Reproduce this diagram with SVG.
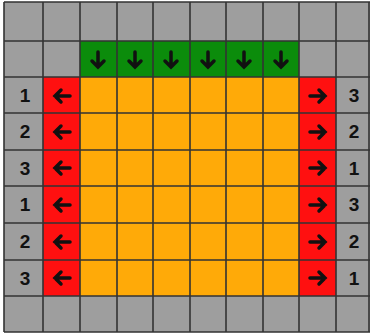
<svg xmlns="http://www.w3.org/2000/svg" width="370" height="336" viewBox="0 0 370 336">
<style>
.gray{fill:#9e9e9e}
.green{fill:#0b8c0b}
.red{fill:#ff1010}
.orange{fill:#ffaa08}
.grid{stroke:#333;stroke-width:1.6;fill:none}
.num{font-family:"Liberation Sans",Arial,sans-serif;font-weight:bold;font-size:19px;fill:#111;text-anchor:middle}
.arr{stroke:#111;stroke-width:3.5;fill:none;stroke-linecap:round;stroke-linejoin:miter}
</style>
<defs>
<path id="aL" class="arr" d="M-7,0 H8 M-1,-6 L-7,0 L-1,6"/>
<path id="aR" class="arr" d="M7,0 H-8 M1,-6 L7,0 L1,6"/>
<path id="aD" class="arr" d="M0,7 V-8 M-6,1 L0,7 L6,1"/>
</defs>
<rect x="0" y="0" width="370" height="336" fill="#fff"/>
<g id="background">
<rect class="gray" x="4" y="2" width="366" height="330"/>
<rect class="green" x="80" y="41" width="219" height="36"/>
<rect class="red" x="43" y="77" width="37" height="219"/>
<rect class="red" x="299" y="77" width="37" height="219"/>
<rect class="orange" x="80" y="77" width="219" height="219"/>
</g>
<g id="gridlines">
<path class="grid" d="M4,2 V332 M43,2 V332 M80,2 V332 M117,2 V332 M153,2 V332 M190,2 V332 M226,2 V332 M263,2 V332 M299,2 V332 M336,2 V332 M369,2 V332"/>
<path class="grid" d="M4,2 H370 M4,41 H370 M4,77 H370 M4,113 H370 M4,150 H370 M4,186 H370 M4,223 H370 M4,260 H370 M4,296 H370 M4,332 H370"/>
</g>
<g id="downArrows">
<use href="#aD" x="98" y="60"/>
<use href="#aD" x="135" y="60"/>
<use href="#aD" x="171" y="60"/>
<use href="#aD" x="208" y="60"/>
<use href="#aD" x="244" y="60"/>
<use href="#aD" x="281" y="60"/>
</g>
<g id="leftArrows">
<use href="#aL" x="62" y="96"/>
<use href="#aL" x="62" y="132"/>
<use href="#aL" x="62" y="168"/>
<use href="#aL" x="62" y="205"/>
<use href="#aL" x="62" y="242"/>
<use href="#aL" x="62" y="278"/>
</g>
<g id="rightArrows">
<use href="#aR" x="318" y="96"/>
<use href="#aR" x="318" y="132"/>
<use href="#aR" x="318" y="168"/>
<use href="#aR" x="318" y="205"/>
<use href="#aR" x="318" y="242"/>
<use href="#aR" x="318" y="278"/>
</g>
<g id="leftLabels">
<text class="num" x="25" y="102">1</text>
<text class="num" x="25" y="138">2</text>
<text class="num" x="25" y="175">3</text>
<text class="num" x="25" y="211">1</text>
<text class="num" x="25" y="248">2</text>
<text class="num" x="25" y="285">3</text>
</g>
<g id="rightLabels">
<text class="num" x="354" y="102">3</text>
<text class="num" x="354" y="138">2</text>
<text class="num" x="354" y="175">1</text>
<text class="num" x="354" y="211">3</text>
<text class="num" x="354" y="248">2</text>
<text class="num" x="354" y="285">1</text>
</g>
</svg>
